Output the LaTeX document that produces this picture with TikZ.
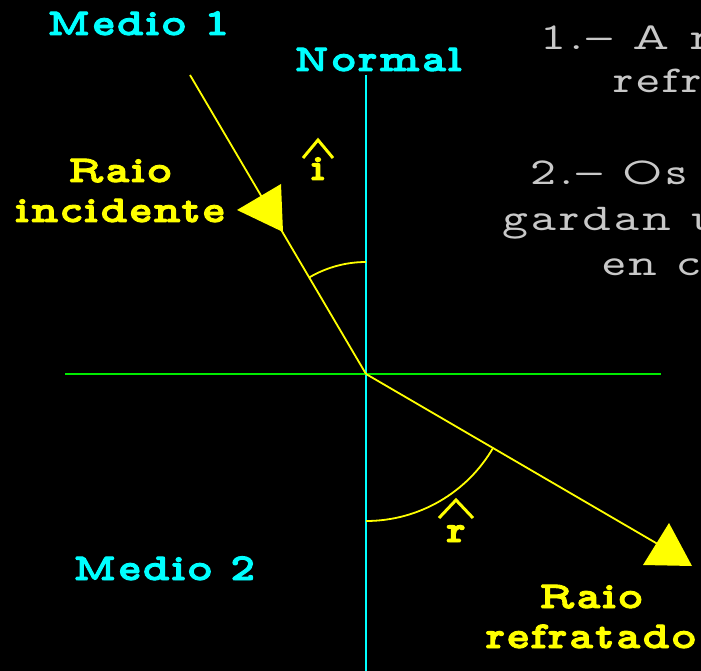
\documentclass[tikz,border=0pt]{standalone}
\usepackage{fontspec}
\newfontfamily\tipo{lmmonoprop10-regular.otf}[BoldFont=lmmonoproplt10-bold.otf,
  BoldFeatures={FakeBold=2.5}, FakeStretch=1.22, LetterSpace=6]
\newfontfamily\tipogris{lmmonoprop10-regular.otf}[FakeStretch=1.3, LetterSpace=8]
\definecolor{ciano}{RGB}{0,255,255}
\definecolor{amarelo}{RGB}{255,255,0}
\definecolor{verde}{RGB}{0,235,0}
\definecolor{gris}{RGB}{200,200,200}
\usetikzlibrary{positioning}

\begin{document}
\begin{tikzpicture}[
    x=1pt, y=-1pt,
    font=\tipo\bfseries\fontsize{38}{40}\selectfont,
    medio/.style={text=ciano, inner sep=0pt, anchor=base west},
    raio/.style={text=amarelo, inner sep=0pt, align=center, anchor=base},
    nota/.style={text=gris, inner sep=0pt, anchor=base west,
      font=\tipogris\fontsize{38}{45}\selectfont},
    eixo/.style={line width=2pt},
    linha/.style={amarelo, line width=1.8pt},
    chapeu/.style={amarelo, line width=3pt},
    frecha/.style={fill=amarelo},
  ]
  % Fondo
  \fill[black] (0,0) rectangle (701,671);
  \useasboundingbox (0,0) rectangle (701,671);
  \clip (0,0) rectangle (701,671);

  % Puntos
  \coordinate (O) at (366,374);
  \coordinate (A) at (190,75);
  \coordinate (B) at (668,550);
  \coordinate (N1) at (366,75);
  \coordinate (N2) at (366,671);
  \coordinate (S1) at (65,374);
  \coordinate (S2) at (661,374);

  % Normal e superficie
  \draw[eixo, ciano] (N1) -- (N2);
  \draw[eixo, verde, line width=1.6pt] (S1) -- (S2);

  % Raios
  \draw[linha] (A) -- (O);
  \draw[linha] (O) -- (B);

  % Angulos
  \draw[linha] (O) ++(0,-112) arc[start angle=-90, end angle=-120.5, radius=112];
  \draw[linha] (O) ++(0,147) arc[start angle=90, end angle=30, radius=147];

  % Frechas
  \fill[frecha] (237,210) -- (281,184) -- (283,232) -- cycle;
  \fill[frecha] (669,523) -- (643,565) -- (692,566) -- cycle;

  % Etiquetas
  \node[medio] (medio1) at (47,35) {Medio 1};
  \node[medio] (normal) at (294,71) {Normal};
  \node[medio] (medio2) at (73,580) {Medio 2};
  \node[raio] (incid) at (120,222) {Raio\\incidente};
  \node[raio] (refrat) at (591,648) {Raio\\refratado};
  \node[raio] (angi) at (318,180) {i};
  \node[raio] (angr) at (456,542) {r};
  \draw[chapeu] (angi.base) ++(-15,-22) -- ++(15,-18) -- ++(15,18);
  \draw[chapeu] (angr.base) ++(-17,-24) -- ++(17,-18) -- ++(17,18);

  % Texto da dereita
  \node[nota] (t1) at (540,50) {1.– A m};
  \node[nota] (t2) at (613,93) {refr};
  \node[nota] (t3) at (530,185) {2.– Os};
  \node[nota] (t4) at (502,230) {gardan u};
  \node[nota] (t5) at (602,275) {en c};
\end{tikzpicture}
\end{document}
